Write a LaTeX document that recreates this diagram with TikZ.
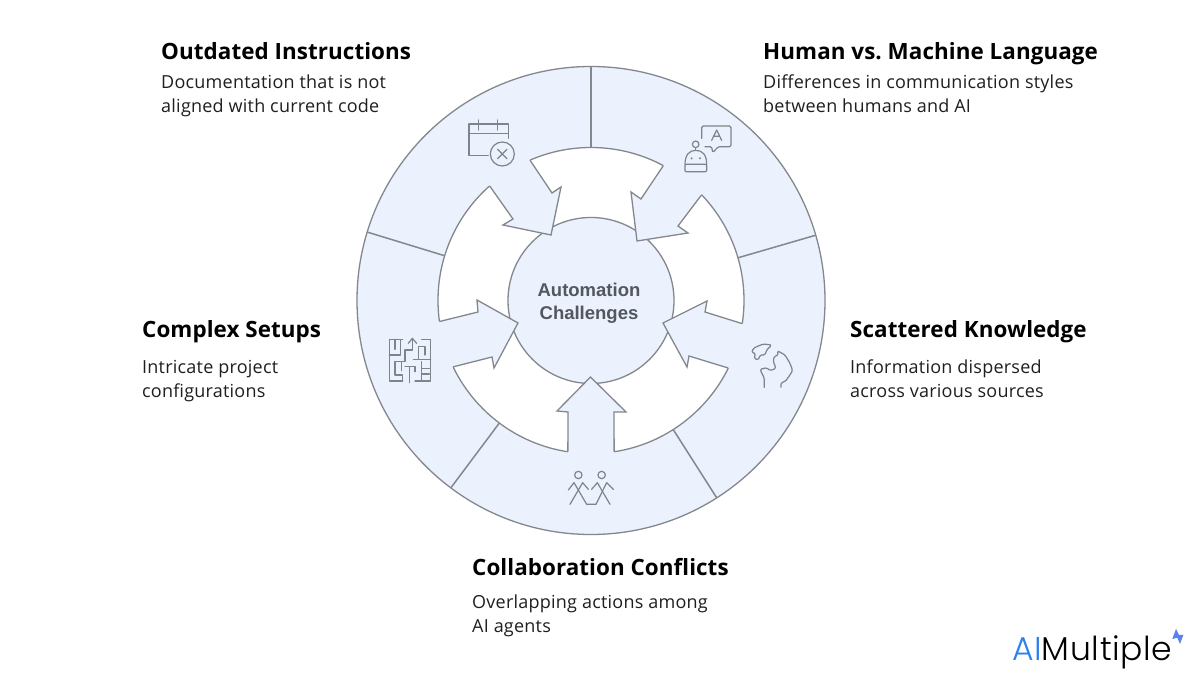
\documentclass[tikz,border=0pt]{standalone}
\usepackage{fontspec}
\usetikzlibrary{calc}
\setmainfont{Open Sans}
\newfontfamily\titlefont{Open Sans}[LetterSpace=0.3]
\newfontfamily\bodyfont{Open Sans}[LetterSpace=1.3]
\newfontfamily\centerfont{Liberation Sans}
\newfontfamily\logofont{Poppins}[UprightFont={* Light},LetterSpace=2]
\definecolor{panel}{HTML}{EBF2FD}
\definecolor{edge}{HTML}{84878D}
\definecolor{iconline}{HTML}{7F838A}
\definecolor{centertext}{HTML}{54575D}
\definecolor{logoblue}{HTML}{2F80EE}
\definecolor{sparkblue}{HTML}{5A82EE}
\tikzset{
  title/.style={anchor=base west,inner sep=0pt,font=\frenchspacing\titlefont\fontsize{22.4}{25}\selectfont\bfseries,text=black},
  body/.style={anchor=base west,inner sep=0pt,font=\bodyfont\fontsize{18}{21}\selectfont,text=black!88},
  midtext/.style={anchor=base,inner sep=0pt,font=\centerfont\fontsize{18.5}{22}\selectfont\bfseries,text=centertext},
  rim/.style={draw=edge,line width=1.3pt,line join=miter},
  divider/.style={draw=edge,line width=1.5pt},
  icon/.style={draw=iconline,line width=1.2pt,line join=round,line cap=round},
  zoomA/.style={shift={(350,375)},x=0.33333pt,y=-0.33333pt},
  zoomB/.style={shift={(590,375)},x=0.33333pt,y=-0.33333pt},
  zoomC/.style={shift={(560,215)},x=0.33333pt,y=-0.33333pt},
  zoomD/.style={shift={(455,565)},x=0.33333pt,y=-0.33333pt},
  zoomE/.style={shift={(670,560)},x=0.33333pt,y=-0.33333pt}
}
\newcommand{\segment}[3]{%
  \fill[panel] ($(c)+(#1:165pt)$) -- ($(c)+(#1:153pt)$) -- #2 -- ($(c)+(#3:153pt)$) -- ($(c)+(#3:165pt)$) -- cycle;
  \draw[rim] ($(c)+(#1:153pt)$) -- #2 -- ($(c)+(#3:153pt)$);
}
\begin{document}
\begin{tikzpicture}[x=1pt,y=1pt]
\useasboundingbox (0,0) rectangle (1200,675);
\fill[white] (0,0) rectangle (1200,675);
\coordinate (c) at (591,374.5);
% rings
\path[rim,fill=panel] (c) circle[radius=234pt];
\path[rim,fill=white] (c) circle[radius=153pt];
\path[rim,fill=panel] (c) circle[radius=83pt];
% dividers
\foreach \a/\n in {90/a,16.2/b,-57.5/c,233.2/d,163/e}{
  \coordinate (i\n) at ($(c)+(\a:153pt)$);
  \coordinate (o\n) at ($(c)+(\a:234pt)$);
  \draw[divider] (i\n) -- (o\n);
}
% arrow segments: fill reaches past the mid ring so its arc is hidden
\segment{131.5}{(513,456) -- (503,450) -- (551,440) -- (561,488) -- (552,482)}{113.5}
\segment{61.8}{(641,476) -- (631,483) -- (637,434) -- (688,442) -- (678,449)}{43.7}
\segment{-8.7}{(705,363) -- (707,374) -- (663,352) -- (687,308) -- (689,319)}{-26.2}
\segment{-81.3}{(614,263) -- (626,263) -- (590.5,298) -- (557,264) -- (568,263)}{-98.7}
\segment{205.7}{(492,318) -- (494,307) -- (518,352) -- (477,375) -- (478,363)}{187.9}
% calendar icon
\begin{scope}[zoomD]
\draw[icon] (100,137) -- (42,137) -- (42,42) -- (160,42) -- (160,85);
\draw[icon] (42,70) -- (160,70);
\draw[icon] (70,30) -- (70,60) (128,30) -- (128,60);
\draw[icon] (142,132) circle[radius=12pt];
\draw[icon] (128,118) -- (156,146) (156,118) -- (128,146);
\end{scope}
% robot icon
\begin{scope}[zoomE]
\draw[icon,rounded corners=1.5pt] (95,70) -- (95,33) -- (183,33) -- (183,95) -- (145,95) -- (128,113) -- (125,95) -- (105,95);
\draw[icon] (125,76) -- (140,45) -- (155,76) (131,64) -- (149,64);
\draw[icon] (77,88) circle[radius=3.3pt];
\draw[icon] (77,98) -- (77,106);
\draw[icon] (45,148) .. controls (45,120) and (58,106) .. (77,106) .. controls (98,106) and (110,120) .. (110,148);
\draw[icon,rounded corners=1pt] (45,148) -- (110,148) -- (110,170) -- (45,170) -- cycle;
\fill[iconline] (65,130) circle[radius=1.1pt] (90,130) circle[radius=1.1pt];
\end{scope}
% maze icon
\begin{scope}[zoomA]
\draw[icon] (158,118) -- (118,118) -- (118,243) -- (158,243) (158,243) -- (158,225) -- (135,225) -- (135,185) -- (165,185) -- (165,150) -- (187,150) -- (187,115);
\draw[icon] (215,118) -- (242,118) -- (242,243) -- (195,243);
\draw[icon] (135,118) -- (135,148) (118,165) -- (152,165) -- (152,120);
\draw[icon] (175,130) -- (187,115) -- (200,130);
\draw[icon] (225,140) -- (205,140) -- (205,178) -- (190,178) (225,140) -- (225,165) (190,178) -- (242,178);
\draw[icon] (155,185) -- (155,212) (165,200) -- (195,200) -- (195,215) (178,200) -- (178,248);
\draw[icon] (215,185) -- (215,240) (215,205) -- (238,205) (215,222) -- (238,222);
\end{scope}
% world icon
\begin{scope}[zoomB]
\draw[icon,rounded corners=1.5pt] (500,140) -- (520,132) -- (545,135) -- (530,150) -- (525,165) -- (510,165) -- (505,180) -- (492,175) -- (497,160) -- (485,158) -- (490,145) -- cycle;
\draw[icon,rounded corners=1.5pt] (523,262) -- (523,235) -- (510,208) -- (530,203) -- (540,212) -- (558,205) -- (550,185) -- (552,170) -- (565,165) -- (562,152) -- (585,165) -- (600,190) -- (608,212) -- (595,232) -- (585,245) -- (573,248) -- (573,262);
\end{scope}
% people icon
\begin{scope}[zoomC]
\draw[icon] (55,45) circle[radius=3.7pt] (125,45) circle[radius=3.7pt];
\draw[icon] (25,90) -- (42,68) -- (80,133) -- (108,133) -- (140,68) -- (160,88);
\draw[icon] (85,88) -- (68,68) -- (30,133);
\draw[icon] (95,88) -- (112,68) -- (150,133);
\end{scope}
% texts
\node[midtext] (m1) at (589,378) {Automation};
\node[midtext] (m2) at (589,355) {Challenges};
\node[title] (t1) at (161,615) {Outdated Instructions};
\node[body] (b1a) at (161,586) {Documentation that is not};
\node[body] (b1b) at (161,562) {aligned with current code};
\node[title] (t2) at (763,615) {Human vs. Machine Language};
\node[body] (b2a) at (763,586) {Differences in communication styles};
\node[body] (b2b) at (763,562) {between humans and AI};
\node[title] (t3) at (142,337) {Complex Setups};
\node[body] (b3a) at (142,301) {Intricate project};
\node[body] (b3b) at (142,277) {configurations};
\node[title] (t4) at (850,337) {Scattered Knowledge};
\node[body] (b4a) at (850,301) {Information dispersed};
\node[body] (b4b) at (850,277) {across various sources};
\node[title] (t5) at (472,99) {Collaboration Conflicts};
\node[body] (b5a) at (472,66) {Overlapping actions among};
\node[body] (b5b) at (472,42) {AI agents};
% logo
\node[anchor=base west,inner sep=0pt,font=\logofont\fontsize{33}{37}\selectfont] (logo) at (1012,14) {\textcolor{logoblue}{AI}Multiple};
\fill[sparkblue] (1176,46) -- (1179,40) -- (1183.3,40) -- (1180,31) -- (1177.3,37.3) -- (1172.3,36) -- cycle;
\end{tikzpicture}
\end{document}
